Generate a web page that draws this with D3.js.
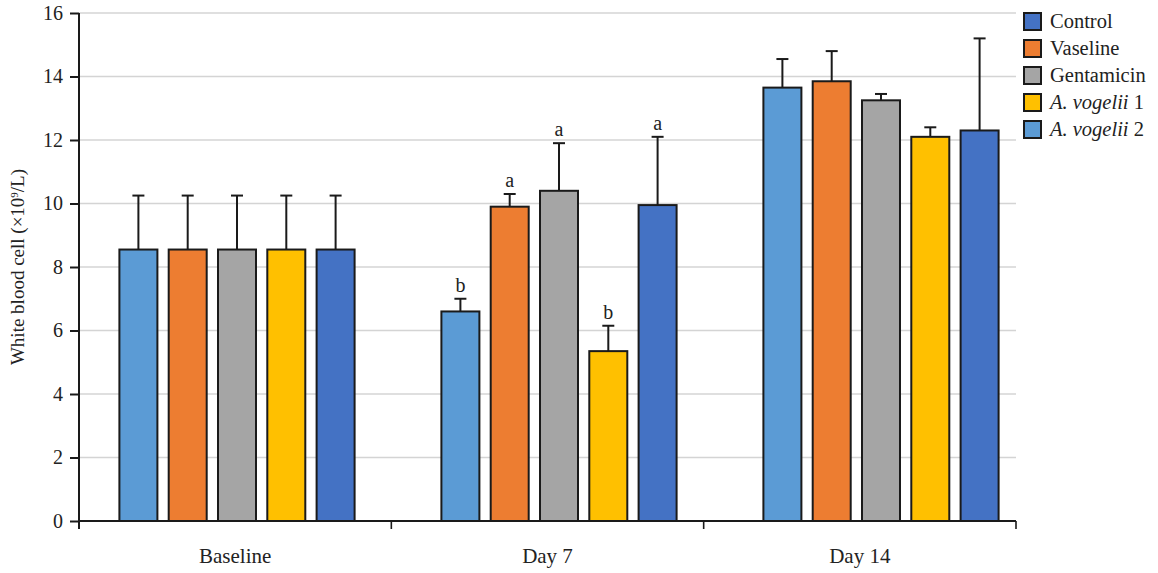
<!DOCTYPE html>
<html>
<head>
<meta charset="utf-8">
<script src="https://cdn.jsdelivr.net/npm/d3@7"></script>
<style>
  body { margin: 0; background: #fff; }
  svg { font-family: "Liberation Serif", "DejaVu Serif", serif; }
</style>
</head>
<body>
<svg id="chart" width="1158" height="573"></svg>
<script>
// chart data
const categories = ['Baseline', 'Day 7', 'Day 14'];
const groups = ['Control', 'Vaseline', 'Gentamicin', 'A. vogelii 1', 'A. vogelii 2'];
const means = [
    [8.55, 8.55, 8.55, 8.55, 8.55],
    [6.6, 9.9, 10.4, 5.35, 9.95],
    [13.65, 13.85, 13.25, 12.1, 12.3]
];
const errTops = [
    [10.25, 10.25, 10.25, 10.25, 10.25],
    [7.0, 10.3, 11.9, 6.15, 12.1],
    [14.55, 14.8, 13.45, 12.4, 15.2]
];
const letters = [
    ['', '', '', '', ''],
    ['b', 'a', 'a', 'b', 'a'],
    ['', '', '', '', '']
];
const yTicks = [0, 2, 4, 6, 8, 10, 12, 14, 16];

// bar fill order and legend swatch order as they appear in the picture
const barColours = ['#5B9BD5', '#ED7D31', '#A5A5A5', '#FFC000', '#4472C4'];
const legendColours = ['#4472C4', '#ED7D31', '#A5A5A5', '#FFC000', '#5B9BD5'];

const svg = d3.select('#chart');
const plotLeft = 79, plotRight = 1016, plotTop = 13, plotBottom = 521;

const y = d3.scaleLinear().domain([0, 16]).range([plotBottom, plotTop]);

// axis bands
const x = d3.scaleBand().domain(categories).range([plotLeft, plotRight]).padding(0);
// bars sit on a slightly wider spacing in the original
const xBars = d3.scaleBand().domain(categories).range([76, 1042]).padding(0);
const barW = 38, barStep = 49.3;

// grid lines
svg.append('g')
    .selectAll('line')
    .data(yTicks.filter(d => d > 0))
    .enter().append('line')
    .attr('x1', plotLeft).attr('x2', plotRight)
    .attr('y1', d => y(d)).attr('y2', d => y(d))
    .attr('stroke', '#d4d4d4')
    .attr('stroke-width', 1.6);

// bars + error bars
categories.forEach((cat, ci) => {
    const center = xBars(cat) + xBars.bandwidth() / 2;
    groups.forEach((grp, gi) => {
        const cx = center + (gi - 2) * barStep;
        const g = svg.append('g');
        g.append('line')
            .attr('x1', cx).attr('x2', cx)
            .attr('y1', y(means[ci][gi])).attr('y2', y(errTops[ci][gi]))
            .attr('stroke', '#1a1a1a').attr('stroke-width', 2);
        g.append('line')
            .attr('x1', cx - 6).attr('x2', cx + 6)
            .attr('y1', y(errTops[ci][gi])).attr('y2', y(errTops[ci][gi]))
            .attr('stroke', '#1a1a1a').attr('stroke-width', 2);
        g.append('rect')
            .attr('x', cx - barW / 2)
            .attr('y', y(means[ci][gi]))
            .attr('width', barW)
            .attr('height', y(0) - y(means[ci][gi]))
            .attr('fill', barColours[gi])
            .attr('stroke', '#1a1a1a')
            .attr('stroke-width', 2);
        if (letters[ci][gi]) {
            g.append('text')
                .attr('x', cx)
                .attr('y', y(errTops[ci][gi]) - 7)
                .attr('text-anchor', 'middle')
                .attr('font-size', 20)
                .attr('fill', '#222')
                .text(letters[ci][gi]);
        }
    });
});

// y axis
const yAxis = svg.append('g')
    .attr('transform', `translate(${plotLeft},0)`)
    .call(d3.axisLeft(y).tickValues(yTicks).tickSize(9).tickPadding(7));
yAxis.select('.domain').attr('stroke', '#1a1a1a').attr('stroke-width', 2)
    .attr('d', `M0,${plotTop}V${plotBottom + 8}`);
yAxis.selectAll('.tick line').attr('stroke', '#1a1a1a').attr('stroke-width', 2);
yAxis.selectAll('.tick text')
    .attr('font-family', '"Liberation Serif", serif')
    .attr('font-size', 20).attr('fill', '#222');

// x axis
const xAxis = svg.append('g')
    .attr('transform', `translate(0,${plotBottom})`);
xAxis.append('line')
    .attr('x1', plotLeft).attr('x2', plotRight)
    .attr('stroke', '#1a1a1a').attr('stroke-width', 2);
const xTicks = categories.map(c => x(c)).concat([plotRight]);
xAxis.selectAll('line.tk')
    .data(xTicks)
    .enter().append('line')
    .attr('class', 'tk')
    .attr('x1', d => d).attr('x2', d => d)
    .attr('y1', 0).attr('y2', 8)
    .attr('stroke', '#1a1a1a').attr('stroke-width', 1.6);
xAxis.selectAll('text')
    .data(categories)
    .enter().append('text')
    .attr('x', d => x(d) + x.bandwidth() / 2)
    .attr('y', 42)
    .attr('text-anchor', 'middle')
    .attr('font-size', 21)
    .attr('fill', '#222')
    .text(d => d);

// y label
const yl = svg.append('text')
    .attr('transform', `translate(24,${(plotTop + plotBottom) / 2}) rotate(-90)`)
    .attr('text-anchor', 'middle')
    .attr('font-size', 19)
    .attr('fill', '#222');
yl.append('tspan').text('White blood cell (×10');
yl.append('tspan').attr('baseline-shift', 'super').attr('font-size', 11).text('9');
yl.append('tspan').text('/L)');

// legend
const legend = svg.append('g').attr('transform', 'translate(1024,13)');
groups.forEach((grp, i) => {
    const row = legend.append('g').attr('transform', `translate(0,${i * 27})`);
    row.append('rect')
        .attr('width', 17).attr('height', 17)
        .attr('fill', legendColours[i])
        .attr('stroke', '#1a1a1a').attr('stroke-width', 2);
    const t = row.append('text')
        .attr('x', 26).attr('y', 15)
        .attr('font-size', 20.5)
        .attr('fill', '#222');
    if (grp.startsWith('A. vogelii')) {
        t.append('tspan').attr('font-style', 'italic').text('A. vogelii');
        t.append('tspan').text(' ' + grp.split(' ').pop());
    } else {
        t.text(grp);
    }
});
</script>
</body>
</html>
